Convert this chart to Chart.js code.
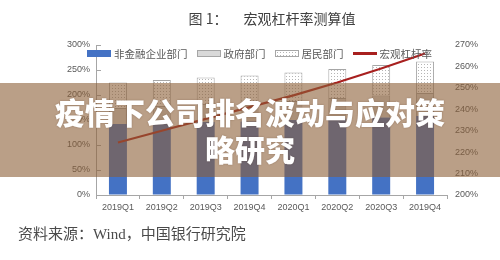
<!DOCTYPE html>
<html>
<head>
<meta charset="utf-8">
<script src="https://cdn.jsdelivr.net/npm/chart.js@4.4.0/dist/chart.umd.min.js"></script>
<style>
  html, body { margin: 0; padding: 0; background: #fff; }
  #wrap { position: relative; width: 500px; height: 260px; overflow: hidden;
          font-family: "Noto Sans CJK SC", "Noto Sans", sans-serif; }
  #chart { position: absolute; left: 0; top: 0; }
  #title { position: absolute; top: 8px; left: 0; width: 544px; text-align: center;
           font-size: 14px; line-height: 20px; color: #404040; }
  #title span { margin-left: 16px; }
  #legend { position: absolute; top: 46px; left: 87px; height: 14px; display: flex;
            align-items: center; gap: 9px; font-size: 10.5px; color: #595959; }
  #legend .item { display: flex; align-items: center; gap: 3px; white-space: nowrap; }
  #legend .mk { width: 24px; height: 7px; box-sizing: border-box; }
  #source { position: absolute; top: 222px; left: 18px; font-size: 15px; color: #4a4a4a;
            font-family: "Liberation Serif", "Noto Sans CJK SC", serif; }
  #banner { position: absolute; left: 0; top: 83px; width: 500px; height: 94px;
            background: rgba(140, 95, 55, 0.6); z-index: 2; }
  #banner div { width: 400px; margin: 0 auto; padding-top: 10px; text-align: center;
                color: #fff; font-weight: 900; font-size: 30px; line-height: 37px;
                text-shadow: 0 0 2px rgba(80, 50, 30, 0.4); }
</style>
</head>
<body>
<div id="wrap">
  <canvas id="chart" width="500" height="260"></canvas>
  <div id="title">图 1：<span>宏观杠杆率测算值</span></div>
  <div id="legend"></div>
  <div id="source">资料来源：Wind，中国银行研究院</div>
  <div id="banner"><div>疫情下公司排名波动与应对策略研究</div></div>
</div>
<script>
// DATA
const quarters      = ['2019Q1', '2019Q2', '2019Q3', '2019Q4', '2020Q1', '2020Q2', '2020Q3', '2019Q4'];
const corpDebt      = [142, 144, 146, 147, 150, 153, 155, 158];
const govDebt       = [32, 34, 36, 37, 38, 41, 44, 46];
const houseDebt     = [51, 52, 53, 55, 57, 58, 61, 63];
const macroLeverage = [224.5, 230, 235.5, 241, 246.5, 252.5, 259, 266];
const seriesNames   = ['非金融企业部门', '政府部门', '居民部门', '宏观杠杆率'];

// dotted fill for the household bars
function dotPattern() {
  const c = document.createElement('canvas');
  c.width = 3; c.height = 3;
  const g = c.getContext('2d');
  g.fillStyle = '#ffffff'; g.fillRect(0, 0, 3, 3);
  g.fillStyle = '#b5b5b5'; g.fillRect(1, 1, 1, 1);
  return g.createPattern(c, 'repeat');
}

const tickFont  = { family: 'Liberation Sans', size: 9 };
const tickColor = '#595959';
const axisColor = '#a6a6a6';
const pct = v => v + '%';

const datasets = [
  { type: 'line', label: seriesNames[3], data: macroLeverage, yAxisID: 'y2', order: 0,
    borderColor: '#a8201f', borderWidth: 2.2, pointRadius: 0, tension: 0, fill: false },
  { type: 'bar', label: seriesNames[0], data: corpDebt, yAxisID: 'y', order: 1,
    backgroundColor: '#4472c4', borderWidth: 0 },
  { type: 'bar', label: seriesNames[1], data: govDebt, yAxisID: 'y', order: 1,
    backgroundColor: '#d9d9d9', borderColor: axisColor, borderWidth: 1 },
  { type: 'bar', label: seriesNames[2], data: houseDebt, yAxisID: 'y', order: 1,
    backgroundColor: dotPattern(), borderColor: axisColor, borderWidth: 1 }
];

new Chart(document.getElementById('chart'), {
  data: { labels: quarters, datasets },
  options: {
    responsive: false, animation: false, devicePixelRatio: 1,
    layout: { padding: { top: 45, left: 0, right: 0, bottom: 0 } },
    datasets: { bar: { categoryPercentage: 1, barPercentage: 0.41 } },
    plugins: { legend: { display: false }, tooltip: { enabled: false }, title: { display: false } },
    scales: {
      x: {
        stacked: true,
        grid: { drawOnChartArea: false, tickLength: 4, color: axisColor, offset: true },
        border: { color: axisColor },
        ticks: { font: tickFont, color: tickColor, padding: 3, maxRotation: 0, autoSkip: false },
        afterFit: s => { s.height = 65; }
      },
      y: {
        stacked: true, min: 0, max: 300,
        ticks: { stepSize: 50, callback: pct, font: tickFont, color: tickColor, padding: 11 },
        grid: { drawOnChartArea: false, tickLength: -5, color: axisColor },
        border: { color: axisColor },
        afterFit: s => { s.width = 96; }
      },
      y2: {
        position: 'right', min: 200, max: 270,
        ticks: { stepSize: 10, callback: pct, font: tickFont, color: tickColor, padding: 8 },
        grid: { display: false, drawTicks: false },
        border: { display: false },
        afterFit: s => { s.width = 53; }
      }
    }
  }
});

// legend built from the same series
const legend = document.getElementById('legend');
const markers = [
  'background:#4472c4;',
  'background:#d9d9d9;border:1px solid #a6a6a6;',
  'background-color:#fff;background-image:radial-gradient(#b5b5b5 0.6px, transparent 0.8px);background-size:3px 3px;border:1px solid #a6a6a6;',
  'height:3px;background:#a8201f;'
];
seriesNames.forEach((name, i) => {
  const item = document.createElement('div');
  item.className = 'item';
  item.innerHTML = `<div class="mk" style="${markers[i]}"></div><span>${name}</span>`;
  legend.appendChild(item);
});
</script>
</body>
</html>
